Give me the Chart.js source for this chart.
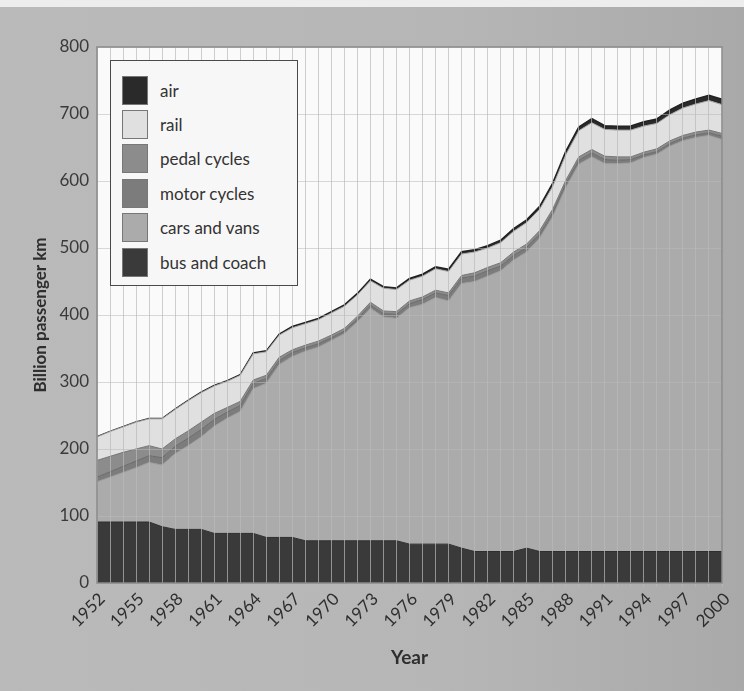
<!DOCTYPE html>
<html>
<head>
<meta charset="utf-8">
<script src="https://cdn.jsdelivr.net/npm/chart.js@4.4.0/dist/chart.umd.min.js"></script>
<style>
    html, body { margin: 0; padding: 0; }
    body {
        width: 744px; height: 691px; overflow: hidden;
        background: linear-gradient(90deg, #bababa 0%, #b6b6b6 60%, #a9a9a9 100%);
        font-family: Lato, "Open Sans", sans-serif;
    }
    #wrap { position: relative; width: 744px; height: 691px; }
    #topstrip { position: absolute; left: 0; top: 0; width: 744px; height: 7px; background: #ededed; }
    #legend {
        position: absolute; left: 110px; top: 60px; width: 188px; height: 226px;
        background: #f7f7f7; border: 1.5px solid #4a4a4a; box-sizing: border-box;
        padding: 12px 0 0 11px;
    }
    .row { display: flex; align-items: center; height: 34.4px; }
    .sw { width: 26px; height: 29px; border: 1px solid #777; box-sizing: border-box; margin-right: 12px; }
    .lb { font-size: 17px; color: #333; }
</style>
</head>
<body>
<div id="wrap">
    <div id="topstrip"></div>
    <canvas id="chart" width="744" height="691"></canvas>
    <div id="legend"></div>
</div>
<script>
// Годы и значения (млрд пассажиро-км)
const years = [1952, 1953, 1954, 1955, 1956, 1957, 1958, 1959, 1960, 1961,
    1962, 1963, 1964, 1965, 1966, 1967, 1968, 1969, 1970, 1971,
    1972, 1973, 1974, 1975, 1976, 1977, 1978, 1979, 1980, 1981,
    1982, 1983, 1984, 1985, 1986, 1987, 1988, 1989, 1990, 1991,
    1992, 1993, 1994, 1995, 1996, 1997, 1998, 1999, 2000];

const busCoach = [91, 91, 91, 91, 91, 84, 80, 80, 80, 74,
    74, 74, 74, 68, 68, 68, 63, 63, 63, 63,
    63, 63, 63, 63, 58, 58, 58, 58, 52, 47,
    47, 47, 47, 52, 47, 47, 47, 47, 47, 47,
    47, 47, 47, 47, 47, 47, 47, 47, 47];

const carsVans = [60, 67, 74, 81, 89, 92, 113, 125, 138, 160,
    172, 182, 216, 230, 258, 270, 283, 289, 299, 309,
    327, 347, 334, 332, 353, 358, 368, 363, 395, 403,
    411, 419, 435, 442, 468, 500, 543, 578, 589, 579,
    579, 580, 588, 593, 605, 613, 618, 621, 615];

const motorCycles = [7, 8, 9, 10, 10, 11, 11, 11, 11, 10,
    9, 9, 8, 7, 6, 6, 5, 5, 4, 4,
    4, 5, 5, 6, 6, 7, 7, 8, 8, 8,
    8, 7, 7, 7, 6, 6, 6, 6, 6, 6,
    5, 5, 4, 4, 4, 4, 4, 4, 5];

const pedalCycles = [25, 23, 21, 18, 15, 13, 11, 11, 11, 9,
    7, 6, 5, 5, 5, 4, 4, 4, 4, 4,
    4, 4, 4, 4, 4, 4, 4, 4, 4, 5,
    5, 5, 5, 5, 5, 5, 5, 5, 5, 5,
    5, 4, 4, 4, 4, 4, 4, 4, 4];

const rail = [35, 37, 38, 40, 40, 45, 44, 45, 44, 41,
    39, 39, 39, 35, 33, 33, 32, 32, 33, 33,
    32, 32, 34, 33, 31, 31, 32, 32, 32, 31,
    29, 30, 31, 32, 32, 34, 38, 39, 40, 40,
    40, 40, 39, 38, 39, 41, 42, 44, 43];

const air = [0.2, 0.3, 0.3, 0.4, 0.5, 0.5, 0.6, 0.7, 0.8, 0.9,
    1.0, 1.1, 1.3, 1.5, 1.6, 1.8, 1.9, 2.0, 2.0, 2.1,
    2.2, 2.3, 2.3, 2.4, 2.6, 2.8, 3.0, 3.2, 3.4, 3.4,
    3.5, 3.6, 3.8, 4.0, 4.2, 4.8, 5.2, 5.6, 6.0, 5.6,
    5.8, 6.0, 6.3, 6.6, 7.0, 7.3, 7.6, 8.0, 8.0];

const yTicks = [0, 100, 200, 300, 400, 500, 600, 700, 800];

// Серии снизу вверх
const series = [
    { label: 'bus and coach', data: busCoach, fill: '#3a3a3a', line: '#2e2e2e', width: 1 },
    { label: 'cars and vans', data: carsVans, fill: '#ababab', line: '#9a9a9a', width: 1 },
    { label: 'motor cycles', data: motorCycles, fill: '#7c7c7c', line: '#6a6a6a', width: 1 },
    { label: 'pedal cycles', data: pedalCycles, fill: '#8c8c8c', line: '#777777', width: 1 },
    { label: 'rail', data: rail, fill: '#e0e0e0', line: '#a0a0a0', width: 1 },
    { label: 'air', data: air, fill: '#2a2a2a', line: '#222222', width: 1.5 }
];

const areaBackground = {
    id: 'areaBackground',
    beforeDraw(chart) {
        const { ctx, chartArea: a } = chart;
        ctx.save();
        ctx.fillStyle = '#fafafa';
        ctx.fillRect(a.left, a.top, a.right - a.left, a.bottom - a.top);
        ctx.restore();
    },
    afterDraw(chart) {
        const { ctx, chartArea: a } = chart;
        ctx.save();
        ctx.strokeStyle = '#8a8a8a';
        ctx.lineWidth = 1.5;
        ctx.strokeRect(a.left, a.top, a.right - a.left, a.bottom - a.top);
        ctx.restore();
    }
};

function buildLegend() {
    const box = document.getElementById('legend');
    series.slice().reverse().forEach(s => {
        box.innerHTML += `<div class="row"><div class="sw" style="background:${s.fill}"></div><span class="lb">${s.label}</span></div>`;
    });
}

const ctx = document.getElementById('chart').getContext('2d');
new Chart(ctx, {
    type: 'line',
    data: {
        labels: years.map(String),
        datasets: series.map((s, i) => ({
            label: s.label,
            data: s.data,
            backgroundColor: s.fill,
            borderColor: s.line,
            borderWidth: s.width,
            fill: i === 0 ? 'origin' : '-1',
            pointRadius: 0,
            tension: 0
        }))
    },
    options: {
        responsive: false,
        animation: false,
        devicePixelRatio: 1,
        layout: { padding: { top: 47, right: 22, bottom: 0, left: 0 } },
        plugins: { legend: { display: false }, tooltip: { enabled: false } },
        scales: {
            x: {
                grid: { z: 1, color: 'rgba(185,185,185,0.7)', lineWidth: 1, tickLength: 4 },
                border: { display: false },
                ticks: {
                    autoSkip: false,
                    maxRotation: 45,
                    minRotation: 45,
                    padding: 2,
                    labelOffset: 5,
                    color: '#2e2e2e',
                    font: { family: 'Lato', size: 17 },
                    callback: function(value, index) {
                        return (years[index] - 1952) % 3 === 0 ? String(years[index]) : '';
                    }
                },
                title: {
                    display: true,
                    text: 'Year',
                    color: '#2e2e2e',
                    font: { family: 'Lato', size: 19, weight: 'bold' },
                    padding: { top: 0, bottom: 22 }
                },
                afterFit: scale => { scale.height = 108; }
            },
            y: {
                stacked: true,
                min: 0,
                max: 800,
                afterBuildTicks: scale => { scale.ticks = yTicks.map(v => ({ value: v })); },
                grid: { z: 1, color: 'rgba(185,185,185,0.55)', lineWidth: 1, tickLength: 5 },
                border: { display: false },
                ticks: {
                    padding: 3,
                    color: '#3a3a3a',
                    font: { family: 'Lato', size: 17 }
                },
                title: {
                    display: true,
                    text: 'Billion passenger km',
                    color: '#2e2e2e',
                    font: { family: 'Lato', size: 17, weight: 'bold' },
                    padding: { top: 30, bottom: 0 }
                },
                afterFit: scale => { scale.width = 97; }
            }
        }
    },
    plugins: [areaBackground]
});

buildLegend();
</script>
</body>
</html>
